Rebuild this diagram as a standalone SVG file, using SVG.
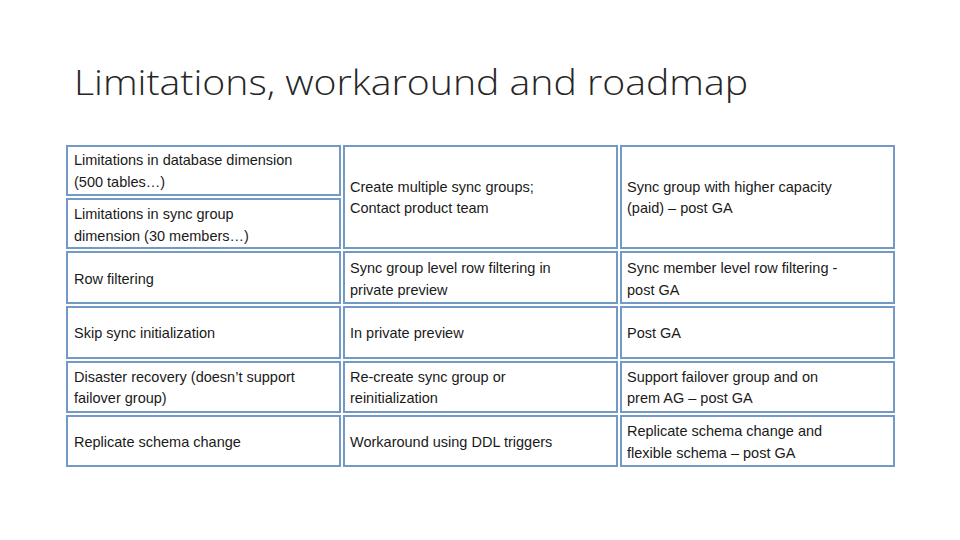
<svg xmlns="http://www.w3.org/2000/svg" width="960" height="540" viewBox="0 0 960 540">
<style>
.c{fill:#fff;stroke:#7399c6;stroke-width:2}
.t{font-family:"Liberation Sans",Arial,sans-serif;font-size:14.5px;fill:#1a1a1a}
.h{font-family:"Open Sans","Liberation Sans",sans-serif;font-weight:300;font-size:35px;fill:#262626}
</style>
<rect width="960" height="540" fill="#fff"/>
<text class="h" x="74" y="95" textLength="674" lengthAdjust="spacingAndGlyphs">Limitations, workaround and roadmap</text>
<g id="row1">
<rect class="c" x="67" y="146" width="273" height="49"/>
<text class="t" x="74" y="165">Limitations in database dimension</text>
<text class="t" x="74" y="187">(500 tables…)</text>
<rect class="c" x="67" y="199" width="273" height="49"/>
<text class="t" x="74" y="219">Limitations in sync group</text>
<text class="t" x="74" y="241">dimension (30 members…)</text>
<rect class="c" x="344" y="146" width="273" height="102"/>
<text class="t" x="350" y="192">Create multiple sync groups;</text>
<text class="t" x="350" y="213">Contact product team</text>
<rect class="c" x="621" y="146" width="273" height="102"/>
<text class="t" x="627" y="192">Sync group with higher capacity</text>
<text class="t" x="627" y="213">(paid) – post GA</text>
</g>
<g id="row2">
<rect class="c" x="67" y="252" width="273" height="51"/>
<text class="t" x="74" y="284">Row filtering</text>
<rect class="c" x="344" y="252" width="273" height="51"/>
<text class="t" x="350" y="273">Sync group level row filtering in</text>
<text class="t" x="350" y="295">private preview</text>
<rect class="c" x="621" y="252" width="273" height="51"/>
<text class="t" x="627" y="273">Sync member level row filtering -</text>
<text class="t" x="627" y="295">post GA</text>
</g>
<g id="row3">
<rect class="c" x="67" y="307" width="273" height="51"/>
<text class="t" x="74" y="338">Skip sync initialization</text>
<rect class="c" x="344" y="307" width="273" height="51"/>
<text class="t" x="350" y="338">In private preview</text>
<rect class="c" x="621" y="307" width="273" height="51"/>
<text class="t" x="627" y="338">Post GA</text>
</g>
<g id="row4">
<rect class="c" x="67" y="362" width="273" height="50"/>
<text class="t" x="74" y="382">Disaster recovery (doesn’t support</text>
<text class="t" x="74" y="403">failover group)</text>
<rect class="c" x="344" y="362" width="273" height="50"/>
<text class="t" x="350" y="382">Re-create sync group or</text>
<text class="t" x="350" y="403">reinitialization</text>
<rect class="c" x="621" y="362" width="273" height="50"/>
<text class="t" x="627" y="382">Support failover group and on</text>
<text class="t" x="627" y="403">prem AG – post GA</text>
</g>
<g id="row5">
<rect class="c" x="67" y="416" width="273" height="50"/>
<text class="t" x="74" y="447">Replicate schema change</text>
<rect class="c" x="344" y="416" width="273" height="50"/>
<text class="t" x="350" y="447">Workaround using DDL triggers</text>
<rect class="c" x="621" y="416" width="273" height="50"/>
<text class="t" x="627" y="436">Replicate schema change and</text>
<text class="t" x="627" y="458">flexible schema – post GA</text>
</g>
<g id="connectors"/>
</svg>
